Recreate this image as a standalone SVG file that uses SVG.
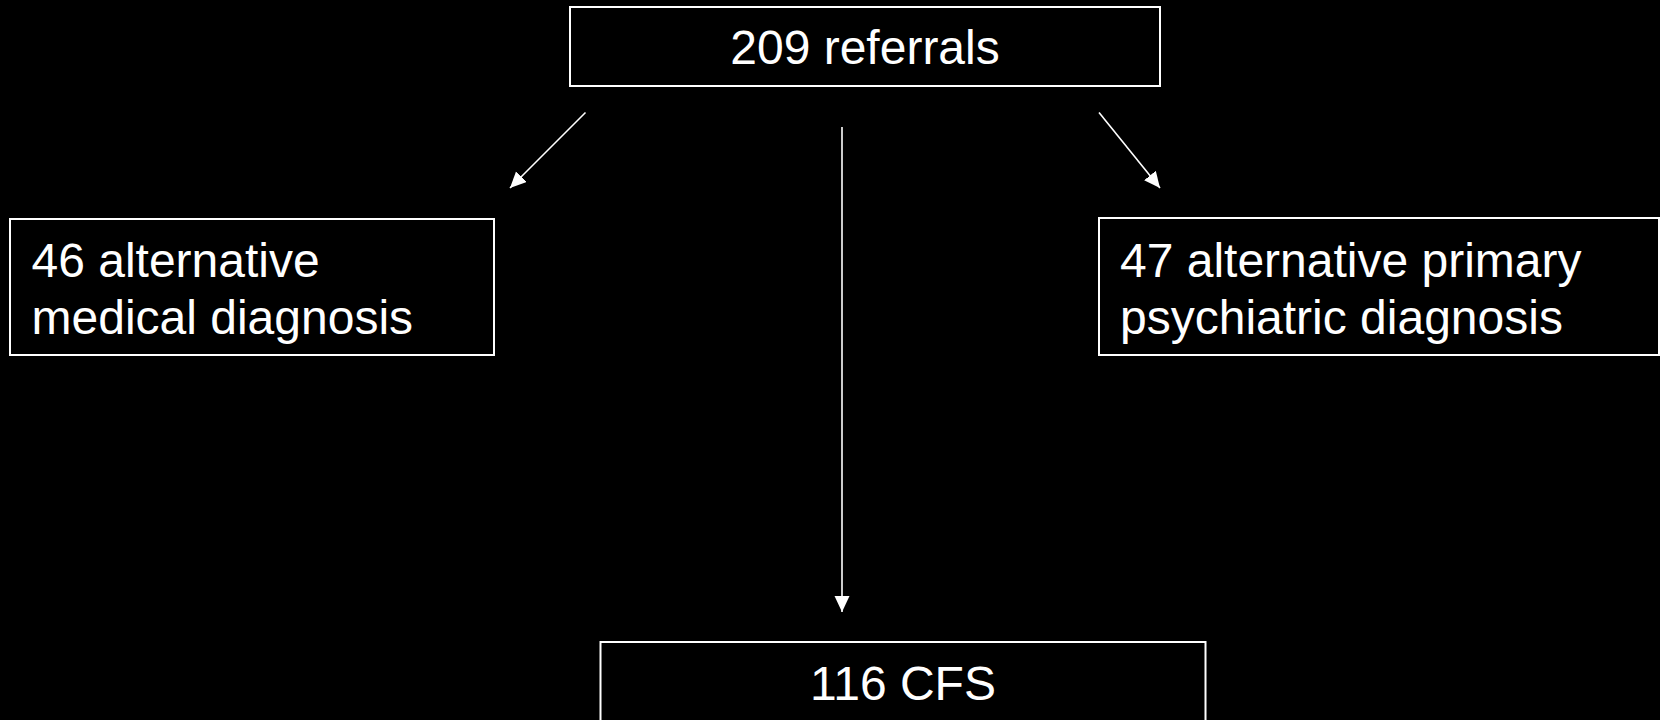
<svg xmlns="http://www.w3.org/2000/svg" width="1660" height="720" viewBox="0 0 1660 720">
<defs>
<style>
.box{fill:#000;stroke:#fff;stroke-width:2}
.t{fill:#fff;font-family:"Liberation Sans",Arial,sans-serif;font-size:48px}
.c{text-anchor:middle}
.ln{stroke:#fff;stroke-width:1.6;fill:none}
</style>
<marker id="ah" markerUnits="userSpaceOnUse" markerWidth="17" markerHeight="16" refX="16" refY="7.5" orient="auto">
<path d="M0,0 L16,7.5 L0,15 z" fill="#fff"/>
</marker>
</defs>
<rect width="1660" height="720" fill="#000"/>
<g id="connectors">
<line class="ln" x1="585.5" y1="112.5" x2="510" y2="188" marker-end="url(#ah)"/>
<line class="ln" x1="842" y1="127" x2="842" y2="612" marker-end="url(#ah)"/>
<line class="ln" x1="1099" y1="112.5" x2="1160" y2="188" marker-end="url(#ah)"/>
</g>
<g id="n-referrals">
<rect class="box" x="570" y="7" width="590" height="79"/>
<text class="t c" x="865" y="63.5">209 referrals</text>
</g>
<g id="n-medical">
<rect class="box" x="10" y="219" width="484" height="136"/>
<text class="t" x="31.5" y="276.5">46 alternative</text>
<text class="t" x="31.5" y="333.5">medical diagnosis</text>
</g>
<g id="n-psychiatric">
<rect class="box" x="1099" y="218" width="560" height="137"/>
<text class="t" x="1120" y="276.5">47 alternative primary</text>
<text class="t" x="1120" y="333.5">psychiatric diagnosis</text>
</g>
<g id="n-cfs">
<rect class="box" x="600.5" y="642" width="605" height="100"/>
<text class="t c" x="903" y="699.5">116 CFS</text>
</g>
</svg>
